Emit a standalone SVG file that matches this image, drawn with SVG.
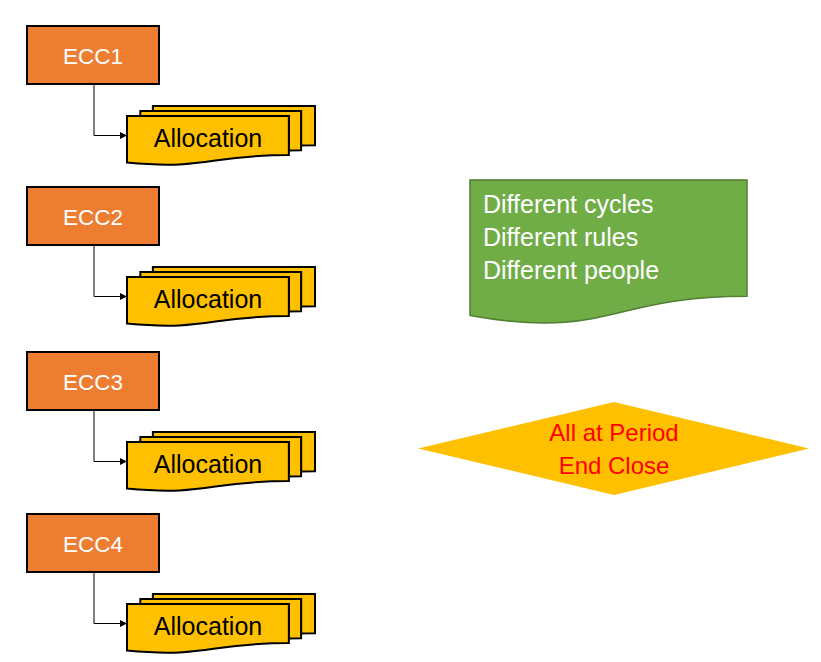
<svg xmlns="http://www.w3.org/2000/svg" width="821" height="662" viewBox="0 0 821 662">
<style>
.ecc{fill:#ED7D31;stroke:#000;stroke-width:2}
.ecct{fill:#fff;font-family:"Liberation Sans",Arial,sans-serif;font-size:22.5px;text-anchor:middle}
.doc{fill:#FFC000;stroke:#000;stroke-width:2;stroke-linejoin:miter}
.doct{fill:#000;font-family:"Liberation Sans",Arial,sans-serif;font-size:25px;text-anchor:middle}
.con{fill:none;stroke:#000;stroke-width:1}
.gt{fill:#fff;font-family:"Liberation Sans",Arial,sans-serif;font-size:25px}
.dt{fill:#FF0000;font-family:"Liberation Sans",Arial,sans-serif;font-size:24px;text-anchor:middle}
</style>
<defs>
<marker id="arr" viewBox="0 0 10 10" refX="10" refY="5" markerWidth="7" markerHeight="7" markerUnits="userSpaceOnUse" orient="auto">
<path d="M0,0 L10,5 L0,10 Z" fill="#000"/>
</marker>
<g id="multidoc">
<path class="doc" d="M25.87,4.94 L25.87,0 L188,0 L188,39.18 C181.04,39.18 174.08,39.38 174.08,39.38 L174.08,4.94 Z"/>
<path class="doc" d="M13.33,10 L13.33,4.94 L174.08,4.94 L174.08,44.24 C167.97,44.24 161.85,44.51 161.85,44.51 L161.85,10 Z"/>
<path class="doc" d="M0,56.57 C80.93,64.08 80.93,49.06 161.85,49.06 L161.85,10 L0,10 Z"/>
</g>
</defs>
<g id="connectors">
<path class="con" d="M94,84 V135.5 H127" marker-end="url(#arr)"/>
<path class="con" d="M94,245 V296.5 H127" marker-end="url(#arr)"/>
<path class="con" d="M94,410 V461.5 H127" marker-end="url(#arr)"/>
<path class="con" d="M94,572 V623.5 H127" marker-end="url(#arr)"/>
</g>
<g id="ecc1">
<rect class="ecc" x="27" y="26" width="132" height="58"/>
<text class="ecct" x="93" y="64">ECC1</text>
</g>
<g id="alloc1">
<use href="#multidoc" x="127" y="106"/>
<text class="doct" x="208" y="147">Allocation</text>
</g>
<g id="ecc2">
<rect class="ecc" x="27" y="187" width="132" height="58"/>
<text class="ecct" x="93" y="225">ECC2</text>
</g>
<g id="alloc2">
<use href="#multidoc" x="127" y="267"/>
<text class="doct" x="208" y="308">Allocation</text>
</g>
<g id="ecc3">
<rect class="ecc" x="27" y="352" width="132" height="58"/>
<text class="ecct" x="93" y="390">ECC3</text>
</g>
<g id="alloc3">
<use href="#multidoc" x="127" y="432"/>
<text class="doct" x="208" y="473">Allocation</text>
</g>
<g id="ecc4">
<rect class="ecc" x="27" y="514" width="132" height="58"/>
<text class="ecct" x="93" y="552">ECC4</text>
</g>
<g id="alloc4">
<use href="#multidoc" x="127" y="594"/>
<text class="doct" x="208" y="635">Allocation</text>
</g>
<g id="note">
<path d="M470,180 H747 V296.3 C608.5,296.3 608.5,340.5 470,315.4 Z" fill="#70AD47" stroke="#507E32" stroke-width="1.5"/>
<text class="gt" x="483" y="213">Different cycles</text>
<text class="gt" x="483" y="246">Different rules</text>
<text class="gt" x="483" y="279">Different people</text>
</g>
<g id="decision">
<polygon points="614,402 809,448.5 614,495 418,448.5" fill="#FFC000"/>
<text class="dt" x="614" y="441">All at Period</text>
<text class="dt" x="614" y="474">End Close</text>
</g>
</svg>
